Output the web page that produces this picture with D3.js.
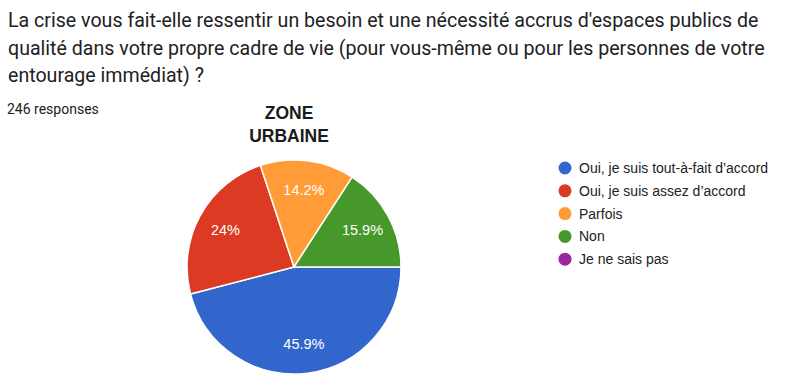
<!DOCTYPE html>
<html>
<head>
<meta charset="utf-8">
<script src="https://cdn.jsdelivr.net/npm/d3@7"></script>
<style>
  html, body { margin: 0; padding: 0; background: #fff; }
  svg { display: block; }
  .question { font-family: Roboto, "Noto Sans", sans-serif; font-size: 19.6px; fill: #202124; }
  .count { font-family: Roboto, "Noto Sans", sans-serif; font-size: 14px; fill: #202124; }
  .chart-title { font-family: "Liberation Sans", Arial, sans-serif; font-size: 17.5px; font-weight: bold; fill: #1a1a1a; }
  .slice-label { font-family: "Liberation Sans", Arial, sans-serif; font-size: 14.5px; fill: #fff; }
  .legend-label { font-family: "Liberation Sans", Arial, sans-serif; font-size: 14px; fill: #222; }
</style>
</head>
<body>
<svg id="chart"></svg>
<script>
const questionLines = [
  "La crise vous fait-elle ressentir un besoin et une nécessité accrus d'espaces publics de",
  "qualité dans votre propre cadre de vie (pour vous-même ou pour les personnes de votre",
  "entourage immédiat) ?"
];
const responsesText = '246 responses';
const titleLines = ['ZONE', 'URBAINE'];

const categories = [
  'Oui, je suis tout-à-fait d’accord',
  'Oui, je suis assez d’accord',
  'Parfois',
  'Non',
  'Je ne sais pas'
];
const counts = [113, 59, 35, 39, 0];
const colors = ['#3366cc', '#dc3a22', '#ff9c38', '#47982b', '#9c27a0'];

const W = 800;
const H = 385;
const CX = 294;
const CY = 267;
const R = 107;

const svg = d3.select('#chart')
  .attr('width', W)
  .attr('height', H);

// Question text
svg.append('g')
  .selectAll('text')
  .data(questionLines)
  .join('text')
  .attr('class', 'question')
  .attr('x', 8)
  .attr('y', (d, i) => 27 + i * 27.5)
  .text(d => d);

svg.append('text')
  .attr('class', 'count')
  .attr('x', 7)
  .attr('y', 114)
  .text(responsesText);

// Chart title
svg.append('g')
  .selectAll('text')
  .data(titleLines)
  .join('text')
  .attr('class', 'chart-title')
  .attr('text-anchor', 'middle')
  .attr('x', 289)
  .attr('y', (d, i) => 119 + i * 23)
  .text(d => d);

const data = categories.map((c, i) => ({ category: c, value: counts[i], color: colors[i] }));
const total = d3.sum(counts);

const pie = d3.pie()
  .value(d => d.value)
  .sort(null)
  .startAngle(Math.PI / 2)
  .endAngle(Math.PI / 2 + 2 * Math.PI);

const arc = d3.arc().innerRadius(0).outerRadius(R);
const labelArc = d3.arc().innerRadius(78).outerRadius(78);

const arcs = pie(data).filter(d => d.data.value > 0);

const g = svg.append('g')
  .attr('transform', `translate(${CX}, ${CY})`);

g.selectAll('path')
  .data(arcs)
  .join('path')
  .attr('d', arc)
  .attr('fill', d => d.data.color)
  .attr('stroke', '#fff')
  .attr('stroke-width', 1.5);

const fmt = v => {
  const p = Math.round(v / total * 1000) / 10;
  return `${p}%`;
};

g.selectAll('text')
  .data(arcs)
  .join('text')
  .attr('class', 'slice-label')
  .attr('text-anchor', 'middle')
  .attr('dominant-baseline', 'central')
  .attr('transform', d => `translate(${labelArc.centroid(d)})`)
  .text(d => fmt(d.data.value));

// Legend
const legend = svg.append('g')
  .attr('transform', 'translate(565, 168)');

const rows = legend.selectAll('g')
  .data(data)
  .join('g')
  .attr('transform', (d, i) => `translate(0, ${i * 22.8})`);

rows.append('circle')
  .attr('r', 6.5)
  .attr('fill', d => d.color);

rows.append('text')
  .attr('class', 'legend-label')
  .attr('x', 14)
  .attr('y', 5)
  .text(d => d.category);
</script>
</body>
</html>
